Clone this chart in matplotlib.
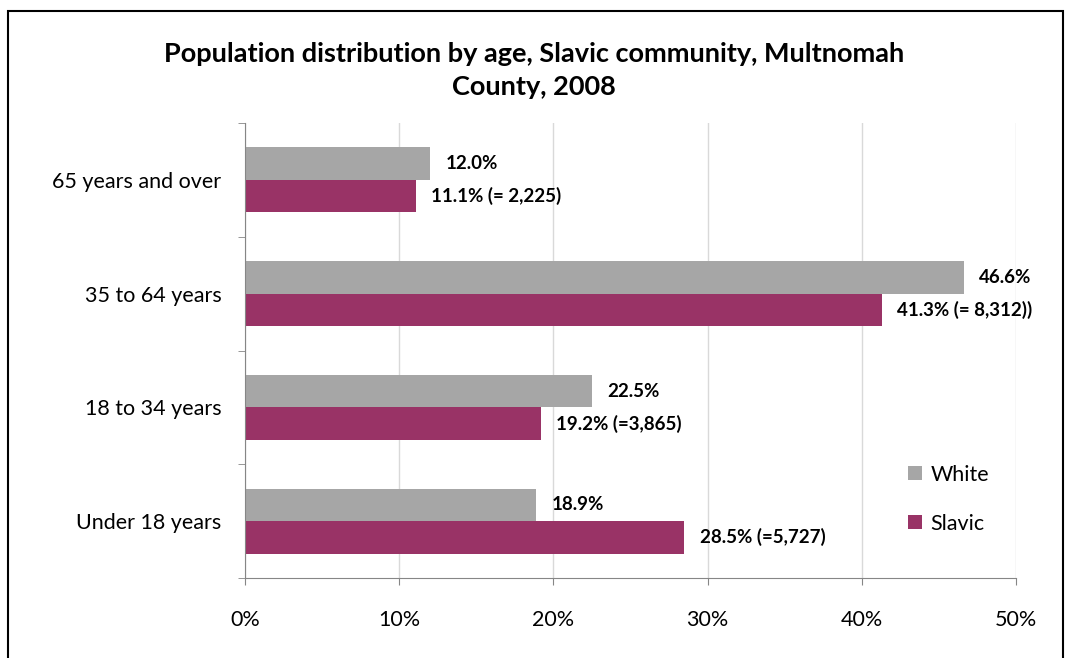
import matplotlib.pyplot as plt
import matplotlib.patches as patches
import numpy as np

plt.rcParams['font.family'] = ['Lato', 'DejaVu Sans']

categories = ['Under 18 years', '18 to 34 years', '35 to 64 years', '65 years and over']
white = [18.9, 22.5, 46.6, 12.0]
slavic = [28.5, 19.2, 41.3, 11.1]
white_labels = ['18.9%', '22.5%', '46.6%', '12.0%']
slavic_labels = ['28.5% (=5,727)', '19.2% (=3,865)', '41.3% (= 8,312))', '11.1% (= 2,225)']

fig = plt.figure(figsize=(10.68, 6.58), dpi=100)
ax = fig.add_axes([0.2294, 0.1216, 0.7219, 0.6914])

# border round the chart area
fig.patches.append(patches.Rectangle((8/1068, -0.05), (1063-8)/1068, 1.05 - 11/658,
                                     transform=fig.transFigure, fill=False,
                                     edgecolor='black', linewidth=1.5))

y = np.arange(len(categories))
h = 0.285
bw = ax.barh(y + h/2, white, height=h, color='#A6A6A6', label='White')
bs = ax.barh(y - h/2, slavic, height=h, color='#993366', label='Slavic')

for i in range(len(categories)):
    ax.annotate(white_labels[i], (white[i], y[i] + h/2), xytext=(11, 0),
                textcoords='offset points', va='center', ha='left',
                fontsize=13.5, fontweight='bold')
    ax.annotate(slavic_labels[i], (slavic[i], y[i] - h/2), xytext=(11, 0),
                textcoords='offset points', va='center', ha='left',
                fontsize=13.5, fontweight='bold')

ax.set_xlim(0, 50)
ax.set_ylim(-0.5, 3.5)
ax.set_xticks(np.arange(0, 51, 10))
ax.set_xticklabels([f'{v}%' for v in range(0, 51, 10)], fontsize=15.5)
ax.set_yticks(y)
ax.set_yticklabels(categories, fontsize=15.5)
ax.set_yticks(np.arange(-0.5, 4, 1), minor=True)
ax.tick_params(axis='y', which='major', length=0, pad=17)
ax.tick_params(axis='y', which='minor', length=5, color='#868686')
ax.tick_params(axis='x', length=5, color='#868686', pad=18)
ax.xaxis.grid(True, color='#D9D9D9', linewidth=1)
ax.set_axisbelow(True)
for s in ['top', 'right']:
    ax.spines[s].set_visible(False)
for s in ['left', 'bottom']:
    ax.spines[s].set_color('#868686')

ax.legend(loc='lower right', bbox_to_anchor=(0.99, 0.055), frameon=False,
          fontsize=15.5, handlelength=0.65, handleheight=0.65, labelspacing=1.35,
          handletextpad=0.4)

fig.text(0.5, 0.893, 'Population distribution by age, Slavic community, Multnomah\nCounty, 2008',
         ha='center', va='center', fontsize=19.5, fontweight='bold', linespacing=1.45)

fig.savefig('out.png', dpi=100)
